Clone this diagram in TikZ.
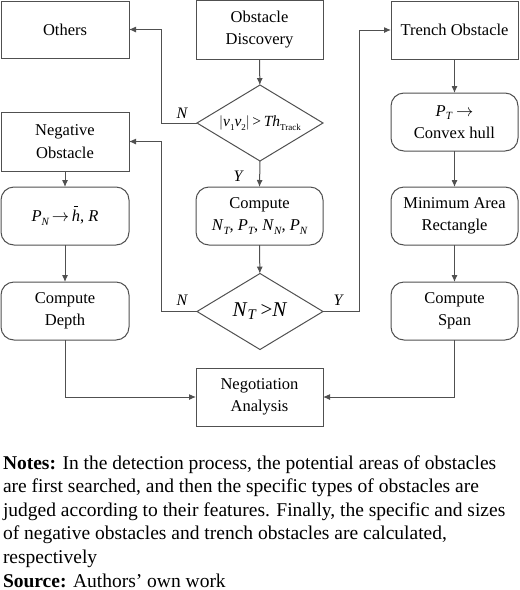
\documentclass[tikz,border=0pt]{standalone}
\usepackage{fontspec}
\setmainfont{Liberation Serif}
\usetikzlibrary{shapes.geometric,arrows.meta}
\definecolor{linec}{HTML}{505050}
\newcommand{\tsub}[1]{\raisebox{-0.25em}{\fontsize{9}{9}\selectfont #1}}
\newcommand{\isub}[1]{\raisebox{-0.22em}{\fontsize{11}{11}\selectfont\itshape #1}}
\newcommand{\hbarred}{\makebox[0pt][l]{\hspace{0.12em}\raisebox{0.88em}{\rule{0.28em}{0.06em}}}\textit{h}}
\begin{document}
\begin{tikzpicture}[x=1pt,y=-1pt,
  every node/.style={inner sep=0pt, outer sep=0pt},
  boxsq/.style={draw=linec, line width=1pt, minimum width=127pt, minimum height=58pt, align=center, font=\fontsize{16.5}{22.5}\selectfont},
  boxrd/.style={boxsq, rounded corners=13pt},
  dia/.style={draw=linec, line width=1pt, diamond, aspect=1.66, minimum width=126pt, minimum height=76pt, font=\fontsize{15.5}{20}\selectfont},
  conn/.style={draw=linec, line width=1pt, -{Latex[length=7pt,width=6pt]}},
  lab/.style={font=\fontsize{16}{18}\selectfont\itshape}
]
\useasboundingbox (0,0) rectangle (520,590);
% column 1
\node[boxsq, minimum width=128pt, minimum height=57pt] (others) at (65,29.5) {Others};
\node[boxsq, minimum width=128pt, minimum height=59pt] (neg) at (65,141.5) {Negative\\Obstacle};
\node[boxrd, minimum width=128pt] (pn) at (65,216) {\textit{P}\isub{N}\,$\rightarrow$\,\hbarred, \textit{R}};
\node[boxrd, minimum width=128pt] (depth) at (65,311) {Compute\\Depth};
% column 2
\node[boxsq, minimum height=59pt] (disc) at (259.5,29.5) {Obstacle\\Discovery};
\node[dia] (d1) at (260,123) {$\bigl|$\textit{v}\tsub{1}\textit{v}\tsub{2}$\bigr|$\,>\,\textit{Th}\tsub{Track}};
\node[boxrd] (comp) at (259.5,216) {Compute\\\textit{N}\isub{T}, \textit{P}\isub{T}, \textit{N}\isub{N}, \textit{P}\isub{N}};
\node[dia, font=\fontsize{21}{24}\selectfont] (d2) at (260,311.5) {\textit{N}\textsubscript{\textit{T}}\,>\textit{N}};
\node[boxsq] (nego) at (259.5,397) {Negotiation\\Analysis};
% column 3
\node[boxsq] (trench) at (454.5,30) {Trench Obstacle};
\node[boxrd] (hull) at (454.5,122) {\textit{P}\isub{T} $\rightarrow$\\Convex hull};
\node[boxrd] (mar) at (454.5,216) {Minimum Area\\Rectangle};
\node[boxrd] (span) at (454.5,311) {Compute\\Span};
% coordinates
\coordinate (l1) at (161,123);
\coordinate (l2) at (161,29.5);
\coordinate (l3) at (161,311.5);
\coordinate (l4) at (161,141.5);
\coordinate (r1) at (359,311.5);
\coordinate (r2) at (359,30);
\coordinate (b1) at (65,397);
\coordinate (b2) at (454.5,397);
% connectors
\draw[conn] (disc) -- (d1);
\draw[conn] (d1.west) -- (l1) -- (l2) -- (others.east);
\draw[conn] (d1.south) -- (comp.north);
\draw[conn] (comp) -- (d2);
\draw[conn] (d2.west) -- (l3) -- (l4) -- (neg.east);
\draw[conn] (d2.east) -- (r1) -- (r2) -- (trench.west);
\draw[conn] (trench) -- (hull);
\draw[conn] (hull) -- (mar);
\draw[conn] (mar) -- (span);
\draw[conn] (neg) -- (pn);
\draw[conn] (pn) -- (depth);
\draw[conn] (depth.south) -- (b1) -- (nego.west);
\draw[conn] (span.south) -- (b2) -- (nego.east);
% labels
\node[lab] (n1) at (182,113) {N};
\node[lab] (y1) at (238,176) {Y};
\node[lab] (n2) at (182,300) {N};
\node[lab] (y2) at (338,300) {Y};
% notes
\node[anchor=base west, align=left, font=\fontsize{19.5}{23.6}\selectfont] (notes) at (3,587)
{\textbf{Notes:} In the detection process, the potential areas of obstacles\\
are first searched, and then the specific types of obstacles are\\
judged according to their features. Finally, the specific and sizes\\
of negative obstacles and trench obstacles are calculated,\\
respectively\\
\textbf{Source:} Authors’ own work};
\end{tikzpicture}
\end{document}
